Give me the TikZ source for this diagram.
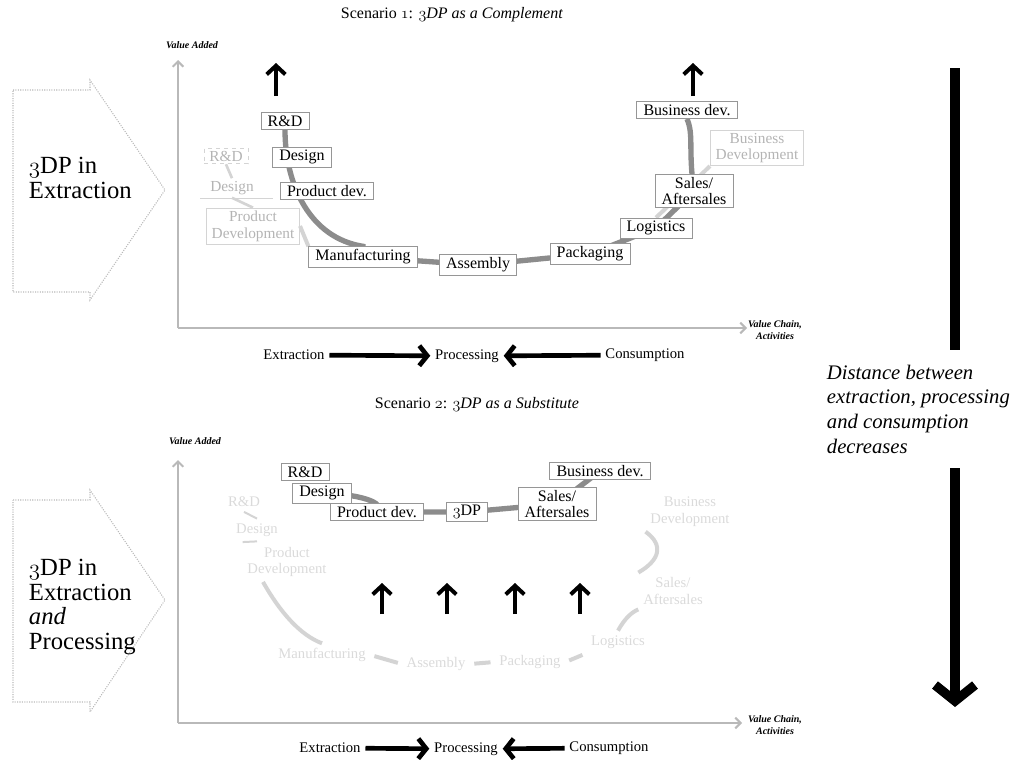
\documentclass[tikz,border=0pt]{standalone}
\usepackage{fontspec}
\setmainfont{Liberation Serif}
\usetikzlibrary{arrows.meta,backgrounds}

\definecolor{boxline}{RGB}{150,150,150}
\definecolor{chaingray}{RGB}{140,140,140}
\definecolor{ghost}{RGB}{180,180,180}
\definecolor{ghostline}{RGB}{212,212,212}
\definecolor{paleghost}{RGB}{218,218,218}
\definecolor{axisgray}{RGB}{185,185,185}

\newcommand{\osnum}[1]{{\usefont{OML}{cmm}{m}{it}#1}}
\newcommand{\tdp}{\osnum{3}DP}

\tikzset{every picture/.style={line width=0.75pt}}
\tikzset{
  stagebox/.style={draw=boxline, fill=white, line width=0.6pt, inner xsep=5pt, inner ysep=2.2pt, align=center, font=\fontsize{12}{12}\selectfont},
  ghostbox/.style={draw=ghostline, text=ghost, line width=0.6pt, inner xsep=4pt, inner ysep=2pt, align=center, font=\fontsize{11.5}{12.5}\selectfont},
  palebox/.style={text=paleghost, align=center, font=\fontsize{11}{12.5}\selectfont},
  chainline/.style={draw=chaingray, line width=4pt},
  ghostchain/.style={draw=ghostline, line width=3pt},
  axisline/.style={draw=axisgray, line width=1.5pt, -{Straight Barb[length=4pt,width=8pt]}},
  flowarrow/.style={line width=3.5pt, -{Straight Barb[length=6pt,width=15pt]}},
  uparrow/.style={line width=3pt, -{Straight Barb[length=6.5pt,width=14pt]}},
  bigline/.style={line width=7pt},
  axislabel/.style={font=\fontsize{7.5}{8.5}\selectfont\bfseries\itshape},
  flowlabel/.style={font=\fontsize{11}{12}\selectfont},
  scentitle/.style={font=\fontsize{12}{14}\selectfont},
  sidelabel/.style={align=left, font=\fontsize{18.5}{18.5}\selectfont},
  chevron/.style={draw=axisgray, densely dotted, line width=0.8pt},
}

\begin{document}
\begin{tikzpicture}[x=0.75pt,y=0.75pt,yscale=-1]
\path[use as bounding box] (0,0) rectangle (1015,760);

%% Scenario 1
\node[scentitle] (title1) at (452,15) {Scenario \osnum{1}: \textit{\tdp\ as a Complement}};

% side chevron
\draw[chevron] (13,90) -- (90,90) -- (90,80) -- (165,190) -- (90,300) -- (90,292) -- (13,292) -- cycle;
\node[sidelabel, anchor=west] (side1) at (24,178) {\tdp\ in\\Extraction};

% axes
\coordinate (o1) at (178,328);
\coordinate (ytop1) at (178,60);
\coordinate (xend1) at (747,328);
\draw[axisline] (o1) -- (ytop1);
\draw[axisline] (o1) -- (xend1);
\node[axislabel] (va1) at (192,45) {Value Added};
\node[axislabel, align=center] (vc1) at (775,330) {Value Chain,\\Activities};

% ghost stages
\node[ghostbox, dashed] (grd1) at (226,156) {R\&D};
\node[ghostbox, draw=none] (gdes1) at (232,188) {Design};
\draw[ghostline] (200,198) -- (273,198);
\node[ghostbox] (gpd1) at (253,226) {Product\\Development};
\node[ghostbox] (gbd1) at (757,148) {Business\\Development};

% stages
\node[stagebox] (rd1) at (285,121) {R\&D};
\node[stagebox] (des1) at (302,157) {Design};
\node[stagebox] (pd1) at (327,191) {Product dev.};
\node[stagebox] (man1) at (363,257) {Manufacturing};
\node[stagebox] (ass1) at (478,265) {Assembly};
\node[stagebox] (pack1) at (590,254) {Packaging};
\node[stagebox] (log1) at (656,228) {Logistics};
\node[stagebox] (sal1) at (694,191) {Sales/\\Aftersales};
\node[stagebox] (bd1) at (687,110) {Business dev.};

\begin{scope}[on background layer]
% ghost chain
\draw[ghostchain, line width=2pt] (grd1.south) -- (gdes1.north);
\draw[ghostchain, line width=2pt] (gdes1.south) -- (gpd1.north);
\draw[ghostchain] (gpd1.east) -- (man1.north west);
\draw[ghostchain] (log1.north) -- (gbd1.south west);
% chain
\draw[chainline] (rd1.south) .. controls (285,185) and (310,238) .. (man1.north) -- (man1.center) -- (ass1.center) -- (pack1.center) -- (log1.center) -- (sal1.center) .. controls (688,150) and (694,135) .. (bd1.south);
\end{scope}

% value arrows
\coordinate (up1s) at (276,96);
\coordinate (up1e) at (276,63);
\coordinate (up2s) at (693,96);
\coordinate (up2e) at (693,63);
\draw[uparrow] (up1s) -- (up1e);
\draw[uparrow] (up2s) -- (up2e);

% flow
\node[flowlabel] (ext1) at (294,355) {Extraction};
\node[flowlabel] (proc1) at (467,356) {Processing};
\node[flowlabel] (con1) at (645,355) {Consumption};
\draw[flowarrow] (ext1) -- (proc1);
\draw[flowarrow] (con1) -- (proc1);

%% Scenario 2
\node[scentitle] (title2) at (477,405) {Scenario \osnum{2}: \textit{\tdp\ as a Substitute}};

% side chevron
\draw[chevron] (13,500) -- (90,500) -- (90,490) -- (165,600) -- (90,712) -- (90,702) -- (13,702) -- cycle;
\node[sidelabel, anchor=west] (side2) at (24,607) {\tdp\ in\\Extraction\\\textit{and}\\Processing};

% axes
\coordinate (o2) at (178,723);
\coordinate (ytop2) at (178,460);
\coordinate (xend2) at (742,723);
\draw[axisline] (o2) -- (ytop2);
\draw[axisline] (o2) -- (xend2);
\node[axislabel] (va2) at (195,441) {Value Added};
\node[axislabel, align=center] (vc2) at (775,725) {Value Chain,\\Activities};

% faded former chain
\node[palebox] (grd2) at (244,502) {R\&D};
\node[palebox] (gdes2) at (257,530) {Design};
\node[palebox] (gpd2) at (287,562) {Product\\Development};
\node[palebox] (gman2) at (322,655) {Manufacturing};
\node[palebox] (gass2) at (436,664) {Assembly};
\node[palebox] (gpack2) at (530,662) {Packaging};
\node[palebox] (glog2) at (618,642) {Logistics};
\node[palebox] (gsal2) at (673,591) {Sales/\\Aftersales};
\node[palebox] (gbd2) at (690,512) {Business\\Development};
\draw[ghostline, line width=1.5pt] (grd2.south) -- (gdes2.north);
\draw[ghostline, line width=1.5pt] (gdes2.south) -- (gpd2.north west);
\draw[ghostchain] ([xshift=-18pt]gpd2.south) .. controls (280,612) and (300,635) .. (gman2.north);
\draw[ghostchain, shorten <=3pt, shorten >=3pt] (gman2.east) -- (gass2.west);
\draw[ghostchain, shorten <=3pt, shorten >=3pt] (gass2.east) -- (gpack2.west);
\draw[ghostchain, shorten <=3pt, shorten >=3pt] (gpack2.east) -- (glog2.south west);
\draw[ghostchain] (glog2.north) .. controls (625,618) and (632,612) .. (gsal2.south west);
\draw[ghostchain] (gsal2.north west) .. controls (660,560) and (664,545) .. (gbd2.south west);

% stages
\node[stagebox] (rd2) at (305,472) {R\&D};
\node[stagebox] (des2) at (322,493) {Design};
\node[stagebox] (pd2) at (377,512) {Product dev.};
\node[stagebox] (tdp2) at (467,512) {\tdp};
\node[stagebox] (sal2) at (557,504) {Sales/\\Aftersales};
\node[stagebox] (bd2) at (600,471) {Business dev.};

\begin{scope}[on background layer]
\draw[chainline] (des2.center) .. controls (370,495) and (385,505) .. (pd2.center) -- (tdp2.center) -- (sal2.center) -- (bd2.center);
\end{scope}

% value arrows
\coordinate (up3s) at (382,614);
\coordinate (up3e) at (382,583);
\coordinate (up4s) at (447,614);
\coordinate (up4e) at (447,583);
\coordinate (up5s) at (515,614);
\coordinate (up5e) at (515,583);
\coordinate (up6s) at (580,614);
\coordinate (up6e) at (580,583);
\draw[uparrow] (up3s) -- (up3e);
\draw[uparrow] (up4s) -- (up4e);
\draw[uparrow] (up5s) -- (up5e);
\draw[uparrow] (up6s) -- (up6e);

% flow
\node[flowlabel] (ext2) at (330,748) {Extraction};
\node[flowlabel] (proc2) at (466,749) {Processing};
\node[flowlabel] (con2) at (609,748) {Consumption};
\draw[flowarrow] (ext2) -- (proc2);
\draw[flowarrow] (con2) -- (proc2);

%% distance arrow
\coordinate (dtop) at (955,68);
\coordinate (dmid1) at (955,350);
\coordinate (dmid2) at (955,468);
\coordinate (dbot) at (955,707);
\node[font=\fontsize{15.5}{18.5}\selectfont\itshape, align=left, anchor=north west] (dist) at (822,360) {Distance between\\extraction, processing\\and consumption\\decreases};
\draw[bigline] (dtop) -- (dmid1);
\draw[bigline, -{Straight Barb[length=12pt,width=30pt]}] (dmid2) -- (dbot);

\end{tikzpicture}
\end{document}
